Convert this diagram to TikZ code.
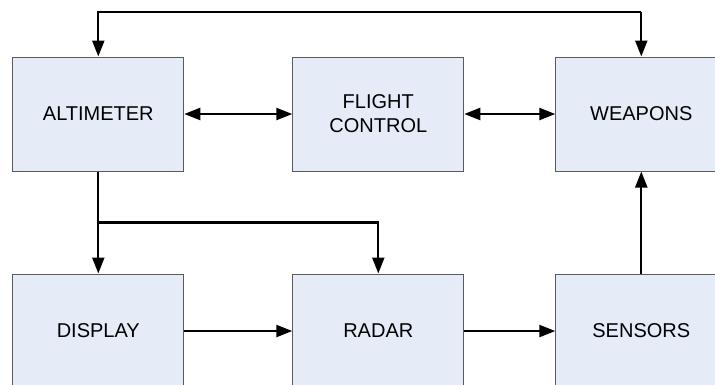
\documentclass[tikz,border=0pt]{standalone}
\usepackage{fontspec}
\setmainfont{Liberation Sans}
\usetikzlibrary{positioning, arrows.meta, calc}
\definecolor{unitfill}{RGB}{229, 236, 247}
\definecolor{unitline}{RGB}{90, 90, 90}

\begin{document}
\begin{tikzpicture}[
    >={Triangle[length=16pt, width=12pt]},
    unit/.style={
        rectangle, draw=unitline, fill=unitfill,
        line width=1pt, align=center,
        minimum width=171pt, minimum height=114pt,
        inner sep=0pt,
        font=\fontsize{20}{24}\selectfont,
    },
    link/.style={->, line width=2.3pt, draw=black},
    both/.style={<->, line width=2.3pt, draw=black},
]

\useasboundingbox (0pt,0pt) rectangle (715pt,-384pt);

% =================================================
% TOP ROW
% =================================================
\node[unit] (alt) at (98.3pt,-114pt) {ALTIMETER};
\node[unit, right=108pt of alt] (fcs) {FLIGHT\\CONTROL};
\node[unit, right=91pt of fcs] (wpn) {WEAPONS};

% =================================================
% BOTTOM ROW
% =================================================
\node[unit, below=102pt of alt] (disp) {DISPLAY};
\node[unit, below=102pt of fcs] (rdr) {RADAR};
\node[unit, below=102pt of wpn] (sens) {SENSORS};

% =================================================
% Connectors
% =================================================
\coordinate (topline) at (0pt,-11.7pt);
\coordinate (split) at ($(alt.south)!0.5!(disp.north)$);

\draw[link] (wpn.north |- topline) -| (alt.north);
\draw[link] (wpn.north |- topline) -- (wpn.north);
\draw[both] (alt) -- (fcs);
\draw[both] (fcs) -- (wpn);
\draw[link] (alt.south) -- (disp.north);
\draw[link] (split) -| (rdr.north);
\draw[link] (disp) -- (rdr);
\draw[link] (rdr) -- (sens);
\draw[link] (sens) -- (wpn);

\end{tikzpicture}
\end{document}
